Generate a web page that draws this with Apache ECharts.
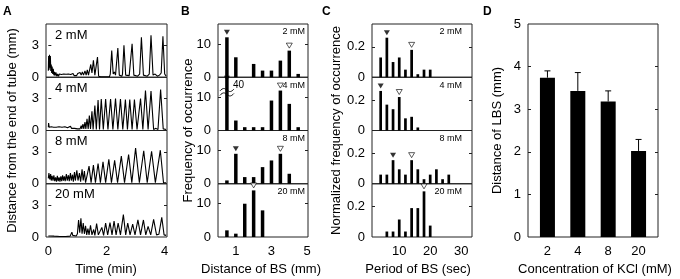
<!DOCTYPE html>
<html>
<head>
<meta charset="utf-8">
<script src="https://cdn.jsdelivr.net/npm/echarts@6/dist/echarts.min.js"></script>
<style>
  html, body { margin: 0; padding: 0; background: #fff; }
  #chart { width: 680px; height: 279px; }
</style>
</head>
<body>
<div id="chart"></div>
<script>
const concLabels = ['2 mM', '4 mM', '8 mM', '20 mM']

// A: distance from the end of tube (mm) over time (min)
const trace2mM = [[0,0.6],[0.01,2.0],[0.025,0.7],[0.04,2.1],[0.055,0.9],[0.07,2.0],[0.085,0.6],[0.1,1.2],[0.115,0.4],[0.13,1.0],[0.15,0.3],[0.17,0.8],[0.19,0.2],[0.21,0.5],[0.23,0.15],[0.26,0.45],[0.29,0.1],[0.32,0.3],[0.35,0.1],[0.38,0.3],[0.41,0.12],[0.45,0.25],[0.49,0.1],[0.53,0.3],[0.57,0.12],[0.61,0.28],[0.65,0.1],[0.69,0.3],[0.73,0.12],[0.77,0.25],[0.81,0.1],[0.85,0.35],[0.89,0.15],[0.93,0.3],[0.97,0.15],[1.01,0.35],[1.05,0.2],[1.09,0.45],[1.13,0.2],[1.17,0.5],[1.21,0.2],[1.26,0.6],[1.3,0.2],[1.34,0.7],[1.38,0.2],[1.46,1.2],[1.5,0.4],[1.55,1.6],[1.6,0.2],[1.69,1.9],[1.73,0.1],[1.8,0.05],[1.95,0.05],[2.1,0.05],[2.13,0.3],[2.18,2.5],[2.23,0.3],[2.27,0.5],[2.31,0.2],[2.34,0.3],[2.39,2.75],[2.44,0.2],[2.49,0.35],[2.53,0.1],[2.55,0.3],[2.6,3.0],[2.66,0.2],[2.72,0.3],[2.78,0.15],[2.82,0.3],[2.88,3.15],[2.94,0.2],[3.0,0.3],[3.07,0.1],[3.14,0.3],[3.2,3.75],[3.27,0.2],[3.33,0.3],[3.4,0.1],[3.47,0.3],[3.53,3.95],[3.6,0.2],[3.67,0.3],[3.75,0.1],[3.82,0.2],[3.88,0.4],[3.94,3.85],[4.0,0.3],[4.05,0.1]]
const trace4mM = [[0,0.3],[0.01,0.7],[0.03,0.3],[0.06,0.25],[0.1,0.35],[0.14,0.2],[0.18,0.3],[0.22,0.2],[0.27,0.3],[0.32,0.25],[0.37,0.35],[0.42,0.25],[0.47,0.3],[0.52,0.25],[0.57,0.35],[0.62,0.45],[0.66,0.25],[0.71,0.3],[0.76,0.4],[0.8,0.2],[0.85,0.3],[0.9,0.2],[0.95,0.3],[1.0,0.15],[1.05,0.3],[1.09,0.15],[1.13,0.45],[1.15,0.15],[1.19,0.6],[1.22,0.15],[1.26,0.8],[1.29,0.15],[1.33,1.1],[1.37,0.15],[1.41,1.4],[1.45,0.15],[1.5,1.8],[1.54,0.1],[1.6,2.35],[1.65,0.1],[1.71,2.85],[1.76,0.1],[1.82,2.95],[1.89,0.1],[1.97,2.95],[2.05,0.1],[2.14,2.95],[2.22,0.1],[2.31,3.0],[2.39,0.1],[2.48,2.95],[2.56,0.1],[2.65,2.9],[2.72,0.1],[2.8,2.9],[2.88,0.1],[2.96,2.9],[3.05,0.1],[3.17,3.0],[3.25,0.1],[3.34,3.75],[3.43,0.1],[3.53,3.7],[3.62,0.1],[3.7,0.2],[3.77,0.1],[3.86,3.85],[3.95,0.15],[4.05,0.1]]
const trace8mM = [[0,0.5],[0.02,1.0],[0.05,0.4],[0.08,0.9],[0.1,0.3],[0.13,0.75],[0.16,0.3],[0.19,0.8],[0.22,0.25],[0.25,0.6],[0.28,0.2],[0.31,0.75],[0.34,0.25],[0.37,0.6],[0.4,0.2],[0.43,0.7],[0.46,0.25],[0.49,0.8],[0.52,0.3],[0.55,0.7],[0.58,0.25],[0.62,0.9],[0.65,0.3],[0.69,0.8],[0.72,0.25],[0.76,1.0],[0.79,0.3],[0.83,0.85],[0.86,0.2],[0.9,1.1],[0.93,0.3],[0.98,1.25],[1.02,0.3],[1.07,1.0],[1.11,0.2],[1.16,1.35],[1.2,0.3],[1.24,1.2],[1.28,0.1],[1.34,0.15],[1.4,1.65],[1.47,0.1],[1.55,1.75],[1.62,0.1],[1.71,1.9],[1.79,0.1],[1.88,2.05],[1.97,0.1],[2.08,2.3],[2.17,0.1],[2.28,2.2],[2.38,0.1],[2.51,2.6],[2.62,0.1],[2.76,2.75],[2.87,0.1],[3.0,3.35],[3.13,0.1],[3.28,3.1],[3.4,0.1],[3.55,3.05],[3.68,0.1],[3.85,3.15],[3.96,0.1],[4.05,0.1]]
const trace20mM = [[0,0.1],[0.03,0.15],[0.05,0.25],[0.08,0.1],[0.2,0.08],[0.4,0.05],[0.6,0.05],[0.75,0.08],[0.78,0.2],[0.81,0.45],[0.84,0.15],[0.9,0.1],[0.96,0.1],[1.0,0.3],[1.04,1.6],[1.08,0.4],[1.12,1.75],[1.16,0.3],[1.2,1.3],[1.24,0.3],[1.28,1.05],[1.32,0.2],[1.36,0.8],[1.4,0.2],[1.45,1.1],[1.5,0.2],[1.56,0.7],[1.6,0.15],[1.66,1.25],[1.72,0.2],[1.78,0.3],[1.84,0.9],[1.9,0.15],[1.97,1.3],[2.04,0.2],[2.12,1.35],[2.19,0.2],[2.26,1.5],[2.33,0.2],[2.4,1.3],[2.48,0.2],[2.58,2.1],[2.66,0.2],[2.73,1.3],[2.81,0.2],[2.9,1.2],[2.98,0.2],[3.08,1.6],[3.17,0.2],[3.27,1.6],[3.35,0.2],[3.43,1.0],[3.52,0.2],[3.62,1.65],[3.72,0.2],[3.8,0.25],[3.9,1.85],[3.98,0.2],[4.05,0.15]]
const timeTicks = [0, 2, 4]
const distTicks = [0, 3]

// B: frequency of occurrence vs distance of BS (mm)
const bsDistBins = [0.5, 1, 1.5, 2, 2.5, 3, 3.5, 4, 4.5]
const bsCount2mM = [12, 6, 0, 4, 2, 2, 5, 8, 1]
const bsCount4mM = [40, 3, 1, 1, 1, 9, 12, 8, 1]
const bsCount8mM = [1, 9, 2, 2, 5, 7, 9, 3, 0]
const bsCount20mM = [2, 1, 10, 14, 8, 0, 0, 0, 0]
const bsDistFilled = [[0.5, 12], [0.5, 14.2], [1, 9], null]
const bsDistOpen = [[4, 8], [3.5, 12], [3.5, 9], [2, 14]]
const bsDistTicks = [1, 3, 5]
const countTicks = [0, 10]

// C: normalized frequency vs period of BS (sec)
const bsPeriodBins = [4, 6, 8, 10, 12, 14, 16, 18, 20, 22, 24, 26]
const bsFreq2mM = [0.13, 0.26, 0.10, 0.13, 0.05, 0.18, 0.02, 0.05, 0.05, 0, 0, 0]
const bsFreq4mM = [0.26, 0.17, 0.14, 0.22, 0.08, 0.09, 0.02, 0, 0, 0, 0, 0]
const bsFreq8mM = [0.06, 0.06, 0.155, 0.095, 0.06, 0.155, 0.095, 0.03, 0.06, 0.095, 0.03, 0.06]
const bsFreq20mM = [0, 0.036, 0.036, 0.115, 0.036, 0.19, 0.19, 0.30, 0.075, 0, 0, 0]
const bsPeriodFilled = [[6, 0.26], [4, 0.26], [8, 0.155], null]
const bsPeriodOpen = [[14, 0.18], [10, 0.22], [14, 0.155], [18, 0.30]]
const periodTicks = [10, 20, 30]
const freqTicks = [0, 0.2]

// D: distance of LBS vs KCl concentration
const kclConc = ['2', '4', '8', '20']
const lbsMean = [3.74, 3.43, 3.18, 2.02]
const lbsUpper = [3.90, 3.86, 3.43, 2.29]
const lbsTicks = [0, 1, 2, 3, 4, 5]

const font = 'Liberation Sans'
const rowTop = [24, 77.25, 130.5, 183.75]
const rowH = 53.25

const grids = []
const xAxes = []
const yAxes = []
const series = []
const graphics = []

function addPanel(left, top, width, height, xr, yr, o) {
  const g = grids.length
  grids.push({ left, top, width, height, show: true, borderColor: '#222', borderWidth: 1 })
  xAxes.push({
    gridIndex: g, type: 'value', min: xr[0], max: xr[1],
    axisLine: { show: false }, axisTick: { show: false }, splitLine: { show: false },
    axisLabel: {
      show: !!o.xLabels, customValues: o.xLabels || [0], formatter: o.xFmt,
      fontFamily: font, fontSize: 13, color: '#000', margin: 8
    }
  })
  const base = {
    gridIndex: g, type: 'value', min: yr[0], max: yr[1],
    splitLine: { show: false }, axisLine: { show: false },
    axisTick: { show: true, inside: true, length: 3, customValues: o.yTicks, lineStyle: { color: '#222' } }
  }
  yAxes.push(Object.assign({}, base, {
    position: 'left',
    axisLabel: { customValues: o.yLabels, fontFamily: font, fontSize: 13, color: '#000', margin: 7 }
  }))
  yAxes.push(Object.assign({}, base, { position: 'right', axisLabel: { show: false } }))
  return g
}

function text(x, y, str, size, extra) {
  graphics.push(Object.assign({
    type: 'text', x, y,
    style: Object.assign({ text: str, font: size + 'px ' + font, fill: '#000', align: 'left', verticalAlign: 'middle' }, extra || {})
  }))
}

function yTitle(x, str) {
  graphics.push({
    type: 'text', x, y: 130.5, rotation: Math.PI / 2,
    style: { text: str, font: '13px ' + font, fill: '#000', align: 'center', verticalAlign: 'middle' }
  })
}

// panel A
const traces = [trace2mM, trace4mM, trace8mM, trace20mM]
traces.forEach((tr, i) => {
  const g = addPanel(46, rowTop[i], 121, rowH, [-0.08, 4.08], [0, 5], {
    xLabels: i === 3 ? timeTicks : null, yLabels: distTicks, yTicks: [3]
  })
  series.push({
    type: 'line', xAxisIndex: g, yAxisIndex: 2 * g, data: tr,
    showSymbol: false, symbol: 'none', clip: true,
    lineStyle: { color: '#000', width: 1.1 }
  })
  text(55, rowTop[i] + 11, concLabels[i], 13)
})

// panel B
const bsCounts = [bsCount2mM, bsCount4mM, bsCount8mM, bsCount20mM]
bsCounts.forEach((counts, i) => {
  const g = addPanel(218, rowTop[i], 90, rowH, [0, 5.05], [0, 16], {
    xLabels: i === 3 ? bsDistTicks : null, yLabels: countTicks, yTicks: [10]
  })
  series.push({
    type: 'bar', xAxisIndex: g, yAxisIndex: 2 * g, barWidth: 3.5, clip: true,
    data: bsDistBins.map((b, k) => [b, counts[k]]),
    itemStyle: { color: '#000' }
  })
  if (bsDistFilled[i]) {
    series.push({
      type: 'scatter', xAxisIndex: g, yAxisIndex: 2 * g, data: [bsDistFilled[i]],
      symbol: 'triangle', symbolRotate: 180, symbolSize: [6, 5], symbolOffset: [0, -5],
      itemStyle: { color: '#000' }
    })
  }
  series.push({
    type: 'scatter', xAxisIndex: g, yAxisIndex: 2 * g, data: [bsDistOpen[i]],
    symbol: 'triangle', symbolRotate: 180, symbolSize: [6, 5], symbolOffset: [0, -5],
    itemStyle: { color: '#fff', borderColor: '#000', borderWidth: 0.8 }
  })
  if (i === 1) {
    // axis break on the 40-count bar
    series.push({
      type: 'custom', xAxisIndex: g, yAxisIndex: 2 * g, data: [[0.5, 11.5, 40]],
      renderItem(params, api) {
        const p = api.coord([api.value(0), api.value(1)])
        const wave = dy => [[-7, 1], [-3.5, -1.5], [0, 0], [3.5, 1.5], [7, -1]].map(d => [p[0] + d[0], p[1] + d[1] + dy])
        const top = wave(-2.2)
        const bot = wave(2.2)
        return {
          type: 'group',
          children: [
            { type: 'polygon', shape: { points: top.concat(bot.slice().reverse()), smooth: 0.3 }, style: { fill: '#fff' } },
            { type: 'polyline', shape: { points: top, smooth: 0.5 }, style: { stroke: '#000', lineWidth: 0.9, fill: null } },
            { type: 'polyline', shape: { points: bot, smooth: 0.5 }, style: { stroke: '#000', lineWidth: 0.9, fill: null } },
            { type: 'text', x: p[0] + 6, y: p[1] - 7, style: { text: String(api.value(2)), font: '10px ' + font, fill: '#000', verticalAlign: 'middle' } }
          ]
        }
      }
    })
  }
  text(305, rowTop[i] + 8, concLabels[i], 9, { align: 'right' })
})

// panel C
const bsFreqs = [bsFreq2mM, bsFreq4mM, bsFreq8mM, bsFreq20mM]
bsFreqs.forEach((freqs, i) => {
  const g = addPanel(372, rowTop[i], 100, rowH, [1.2, 33.5], [0, 0.35], {
    xLabels: i === 3 ? periodTicks : null, yLabels: freqTicks, yTicks: [0.2]
  })
  series.push({
    type: 'bar', xAxisIndex: g, yAxisIndex: 2 * g, barWidth: 2.7, clip: true,
    data: bsPeriodBins.map((b, k) => [b, freqs[k]]),
    itemStyle: { color: '#000' }
  })
  if (bsPeriodFilled[i]) {
    series.push({
      type: 'scatter', xAxisIndex: g, yAxisIndex: 2 * g, data: [bsPeriodFilled[i]],
      symbol: 'triangle', symbolRotate: 180, symbolSize: [6, 5], symbolOffset: [0, -5],
      itemStyle: { color: '#000' }
    })
  }
  series.push({
    type: 'scatter', xAxisIndex: g, yAxisIndex: 2 * g, data: [bsPeriodOpen[i]],
    symbol: 'triangle', symbolRotate: 180, symbolSize: [6, 5], symbolOffset: [0, -5],
    itemStyle: { color: '#fff', borderColor: '#000', borderWidth: 0.8 }
  })
  text(462, rowTop[i] + 8, concLabels[i], 9, { align: 'right' })
})

// panel D
const gD = addPanel(528, 24, 130, 213, [0.36, 4.64], [0, 5], {
  xLabels: [1, 2, 3, 4], xFmt: v => kclConc[Math.round(v) - 1], yLabels: lbsTicks, yTicks: [1, 2, 3, 4]
})
series.push({
  type: 'bar', xAxisIndex: gD, yAxisIndex: 2 * gD, barWidth: 15,
  data: kclConc.map((c, i) => [i + 1, lbsMean[i]]),
  itemStyle: { color: '#000' }
})
series.push({
  type: 'custom', xAxisIndex: gD, yAxisIndex: 2 * gD,
  data: kclConc.map((c, i) => [i + 1, lbsMean[i], lbsUpper[i]]),
  renderItem(params, api) {
    const lo = api.coord([api.value(0), api.value(1)])
    const hi = api.coord([api.value(0), api.value(2)])
    const st = { stroke: '#000', lineWidth: 1 }
    return {
      type: 'group',
      children: [
        { type: 'line', shape: { x1: lo[0], y1: lo[1], x2: hi[0], y2: hi[1] }, style: st },
        { type: 'line', shape: { x1: hi[0] - 3, y1: hi[1], x2: hi[0] + 3, y2: hi[1] }, style: st }
      ]
    }
  }
})

// axis titles and panel letters
yTitle(12, 'Distance from the end of tube (mm)')
yTitle(188, 'Frequency of occurrence')
yTitle(336, 'Normalized frequency of occurrence')
yTitle(497, 'Distance of LBS (mm)')
text(106, 269, 'Time (min)', 13, { align: 'center' })
text(261, 269, 'Distance of BS (mm)', 13, { align: 'center' })
text(418, 269, 'Period of BS (sec)', 13, { align: 'center' })
text(595, 269, 'Concentration of KCl (mM)', 13, { align: 'center' })
const letters = [['A', 3], ['B', 181], ['C', 322], ['D', 483]]
letters.forEach(l => text(l[1], 12, l[0], 15, { fontWeight: 'bold', font: 'bold 15px ' + font }))

const chart = echarts.init(document.getElementById('chart'))
chart.setOption({
  animation: false,
  backgroundColor: '#fff',
  grid: grids,
  xAxis: xAxes,
  yAxis: yAxes,
  series,
  graphic: graphics
})
</script>
</body>
</html>
